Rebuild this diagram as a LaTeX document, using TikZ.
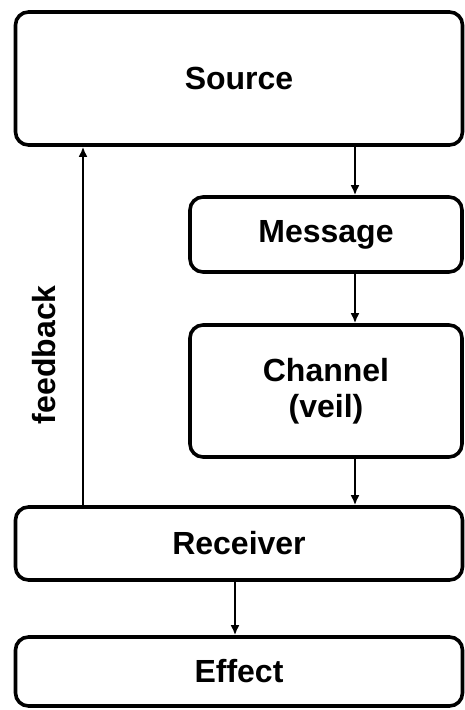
\documentclass[tikz,border=0pt]{standalone}
\usepackage{fontspec}
\setmainfont{Liberation Sans}
\usetikzlibrary{positioning,arrows.meta}

\begin{document}
\begin{tikzpicture}
                    [
                        x=1pt, y=-1pt,
                        every node/.style={font=\fontsize{32}{36}\selectfont\bfseries},
                        stage/.style={draw, line width=3.6pt, rounded corners=13pt, inner sep=0pt},
                        flow/.style={line width=2.6pt, -{Latex[length=10pt,width=9pt]}}
                    ]

                    % Rahmen
                    \useasboundingbox (0,0) rectangle (465,710);

                    \node[stage, minimum width=447pt, minimum height=133pt] (source) at (239,78.5) {Source};
                    \node[stage, minimum width=272pt, minimum height=75pt] (message) at (326,234.5) {Message};
                    \node[stage, minimum width=272pt, minimum height=132pt, align=center] (channel) at (326,391) {Channel\\(veil)};
                    \node[stage, minimum width=447pt, minimum height=73pt] (receiver) at (239,543.5) {Receiver};
                    \node[stage, minimum width=447pt, minimum height=69pt] (effect) at (239,671.5) {Effect};

                    % Pfeile
                    \draw[flow] ([xshift=29pt]message.north |- source.south) -- ([xshift=29pt]message.north);
                    \draw[flow] ([xshift=29pt]message.south) -- ([xshift=29pt]channel.north);
                    \draw[flow] ([xshift=29pt]channel.south) -- ([xshift=29pt]channel.south |- receiver.north);
                    \draw[flow] ([xshift=-4pt]receiver.south) -- ([xshift=-4pt]effect.north);
                    \draw[flow] ([xshift=-156pt]receiver.north) -- ([xshift=-156pt]receiver.north |- source.south)
                        node[pos=.42, left=23pt, rotate=90, anchor=south] (fb) {feedback};
\end{tikzpicture}
\end{document}
